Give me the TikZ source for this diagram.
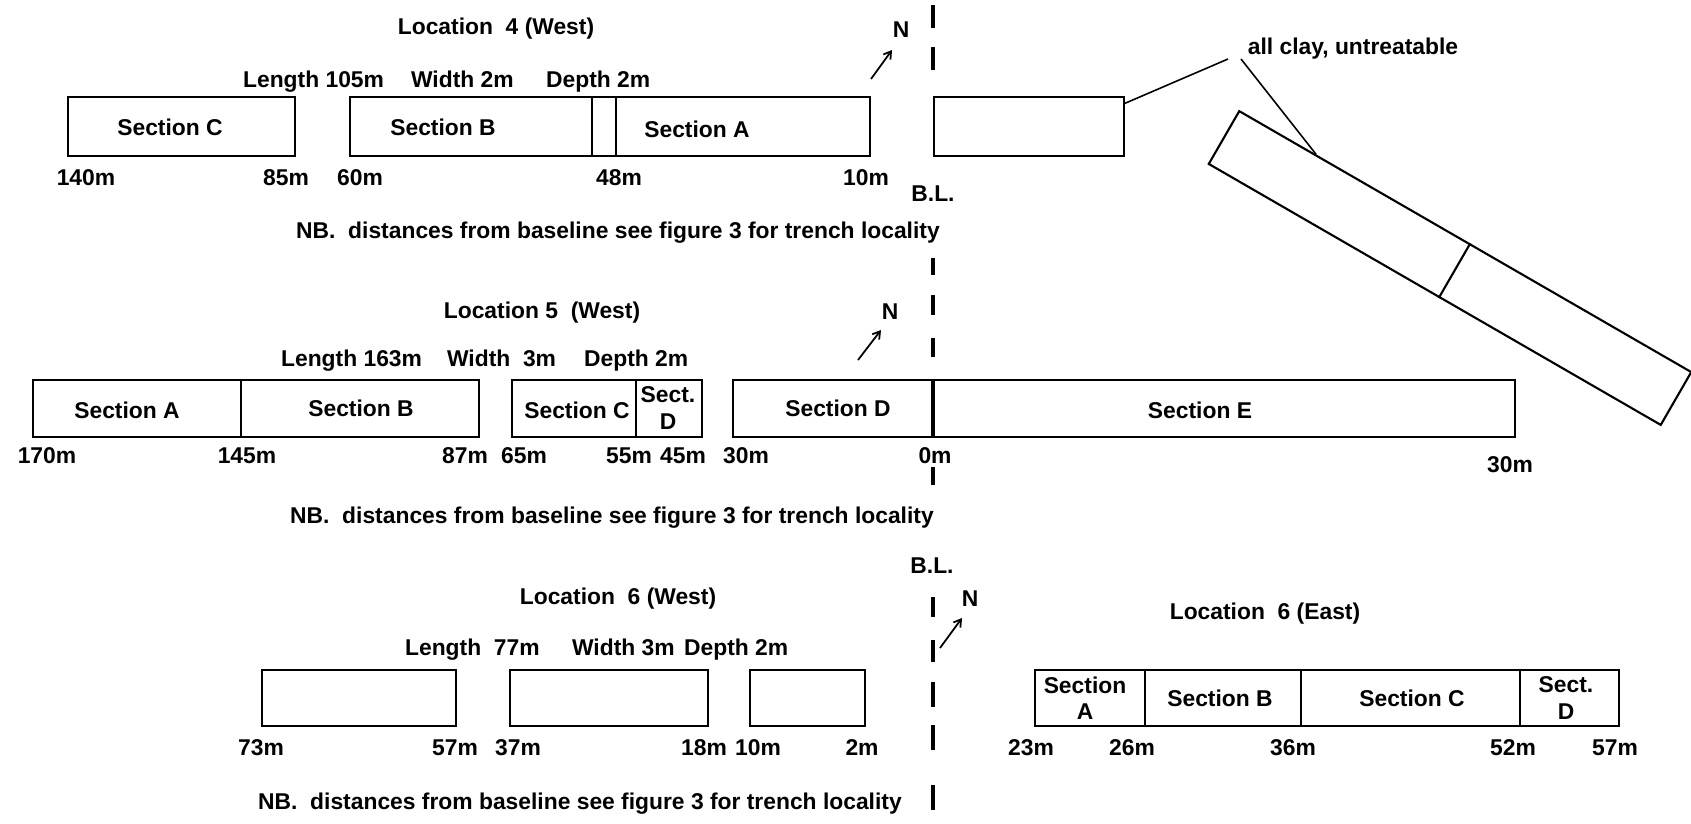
\documentclass[tikz,border=0pt]{standalone}
\usepackage{fontspec}
\setmainfont{Liberation Sans}
\usetikzlibrary{arrows.meta,calc}

\begin{document}
\begin{tikzpicture}[
    x=0.02cm, y=-0.02cm,
    trench/.style={draw, line width=1.2pt},
    lbl/.style={font=\bfseries\fontsize{13}{15}\selectfont, inner sep=1pt, text height=11.8pt, text depth=2.5pt},
    twoline/.style={font=\bfseries\fontsize{13}{15}\selectfont, inner sep=1pt, align=center},
    blline/.style={line width=2.3pt},
    lead/.style={line width=0.9pt},
    north/.style={line width=1pt, -{Straight Barb[length=4pt,width=5pt]}}
  ]
  \useasboundingbox (0,0) rectangle (1691,823);

  \foreach \a/\b in {5/28, 47/70, 258/275, 295/315, 338/357, 467/485,
                     597/617, 640/662, 682/707, 725/750, 785/810}
    \draw[blline] (933,\a) -- (933,\b);
  \node[lbl] (bl4) at (933,193) {B.L.};
  \node[lbl] (bl6) at (932,565) {B.L.};

  \node[lbl] (loc4) at (496,26) {Location\ \ 4 (West)};
  \node[lbl, anchor=west] (len4) at (241,79) {Length 105m};
  \node[lbl, anchor=west] (wid4) at (409,79) {Width 2m};
  \node[lbl, anchor=west] (dep4) at (544,79) {Depth 2m};
  \draw[trench] (68,97) rectangle (295,156);
  \draw[trench] (350,97) rectangle (870,156);
  \draw[trench] (592,97) -- (592,156) (616,97) -- (616,156);
  \node[lbl] (secC4) at (170,127) {Section C};
  \node[lbl] (secB4) at (443,127) {Section B};
  \node[lbl] (secA4) at (697,129) {Section A};
  \node[lbl] at (86,177) {140m};
  \node[lbl] at (286,177) {85m};
  \node[lbl] at (360,177) {60m};
  \node[lbl] at (619,177) {48m};
  \node[lbl] at (866,177) {10m};
  \node[lbl] (nb4) at (618,230) {NB.\ \ distances from baseline see figure 3 for trench locality};
  \node[lbl] (n4) at (901,29) {N};
  \coordinate (n4tail) at (871,79);
  \coordinate (n4tip) at (892,50);
  \draw[north] (n4tail) -- (n4tip);

  \node[trench, minimum width=3.8cm, minimum height=1.18cm, inner sep=0pt] (clay4) at (1029,126.5) {};
  \node[trench, minimum width=10.44cm, minimum height=1.22cm, inner sep=0pt, rotate=-30] (clay5) at (1450,268) {};
  \draw[trench] ($(clay5.north west)!0.51!(clay5.north east)$) -- ($(clay5.south west)!0.51!(clay5.south east)$);
  \node[lbl] (clay) at (1353,46) {all clay, untreatable};
  \coordinate (leadA) at (1228,59);
  \coordinate (leadB) at (1241,59);
  \draw[lead] ($(clay4.north east)!0.12!(clay4.south east)$) -- (leadA);
  \draw[lead] (leadB) -- ($(clay5.north west)!0.17!(clay5.north east)$);

  \node[lbl] (loc5) at (542,310) {Location 5\ \ (West)};
  \node[lbl, anchor=west] (len5) at (279,358) {Length 163m};
  \node[lbl, anchor=west] (wid5) at (445,358) {Width\ \ 3m};
  \node[lbl, anchor=west] (dep5) at (582,358) {Depth 2m};
  \draw[trench] (33,380) rectangle (479,437);
  \draw[trench] (241,380) -- (241,437);
  \draw[trench] (512,380) rectangle (702,437);
  \draw[trench] (636,380) -- (636,437);
  \draw[trench] (733,380) rectangle (1515,437);
  \draw[blline] (933,380) -- (933,437);
  \node[lbl] (secA5) at (127,410) {Section A};
  \node[lbl] (secB5) at (361,408) {Section B};
  \node[lbl] (secC5) at (577,410) {Section C};
  \node[twoline] (secD5a) at (668,408) {Sect.\\D};
  \node[lbl] (secD5b) at (838,408) {Section D};
  \node[lbl] (secE5) at (1200,410) {Section E};
  \node[lbl] at (47,455) {170m};
  \node[lbl] at (247,455) {145m};
  \node[lbl] at (465,455) {87m};
  \node[lbl] at (524,455) {65m};
  \node[lbl] at (629,455) {55m};
  \node[lbl] at (683,455) {45m};
  \node[lbl] at (746,455) {30m};
  \node[lbl] at (935,455) {0m};
  \node[lbl] at (1510,464) {30m};
  \node[lbl] (nb5) at (612,515) {NB.\ \ distances from baseline see figure 3 for trench locality};
  \node[lbl] (n5) at (890,311) {N};
  \coordinate (n5tail) at (858,360);
  \coordinate (n5tip) at (881,330);
  \draw[north] (n5tail) -- (n5tip);

  \node[lbl] (loc6w) at (618,596) {Location\ \ 6 (West)};
  \node[lbl, anchor=west] (len6) at (403,647) {Length\ \ 77m};
  \node[lbl, anchor=west] (wid6) at (570,647) {Width 3m};
  \node[lbl, anchor=west] (dep6) at (682,647) {Depth 2m};
  \draw[trench] (262,670) rectangle (456,726);
  \draw[trench] (510,670) rectangle (708,726);
  \draw[trench] (750,670) rectangle (865,726);
  \node[lbl] at (261,747) {73m};
  \node[lbl] at (455,747) {57m};
  \node[lbl] at (518,747) {37m};
  \node[lbl] at (704,747) {18m};
  \node[lbl] at (758,747) {10m};
  \node[lbl] at (862,747) {2m};
  \node[lbl] (nb6) at (580,801) {NB.\ \ distances from baseline see figure 3 for trench locality};
  \node[lbl] (n6) at (970,598) {N};
  \coordinate (n6tail) at (940,648);
  \coordinate (n6tip) at (962,618);
  \draw[north] (n6tail) -- (n6tip);

  \node[lbl] (loc6e) at (1265,611) {Location\ \ 6 (East)};
  \draw[trench] (1035,670) rectangle (1619,726);
  \draw[trench] (1145,670) -- (1145,726) (1301,670) -- (1301,726) (1520,670) -- (1520,726);
  \node[twoline] (secA6) at (1085,698) {Section\\A};
  \node[lbl] (secB6) at (1220,698) {Section B};
  \node[lbl] (secC6) at (1412,698) {Section C};
  \node[twoline] (secD6) at (1566,698) {Sect.\\D};
  \node[lbl] at (1031,747) {23m};
  \node[lbl] at (1132,747) {26m};
  \node[lbl] at (1293,747) {36m};
  \node[lbl] at (1513,747) {52m};
  \node[lbl] at (1615,747) {57m};
\end{tikzpicture}
\end{document}
